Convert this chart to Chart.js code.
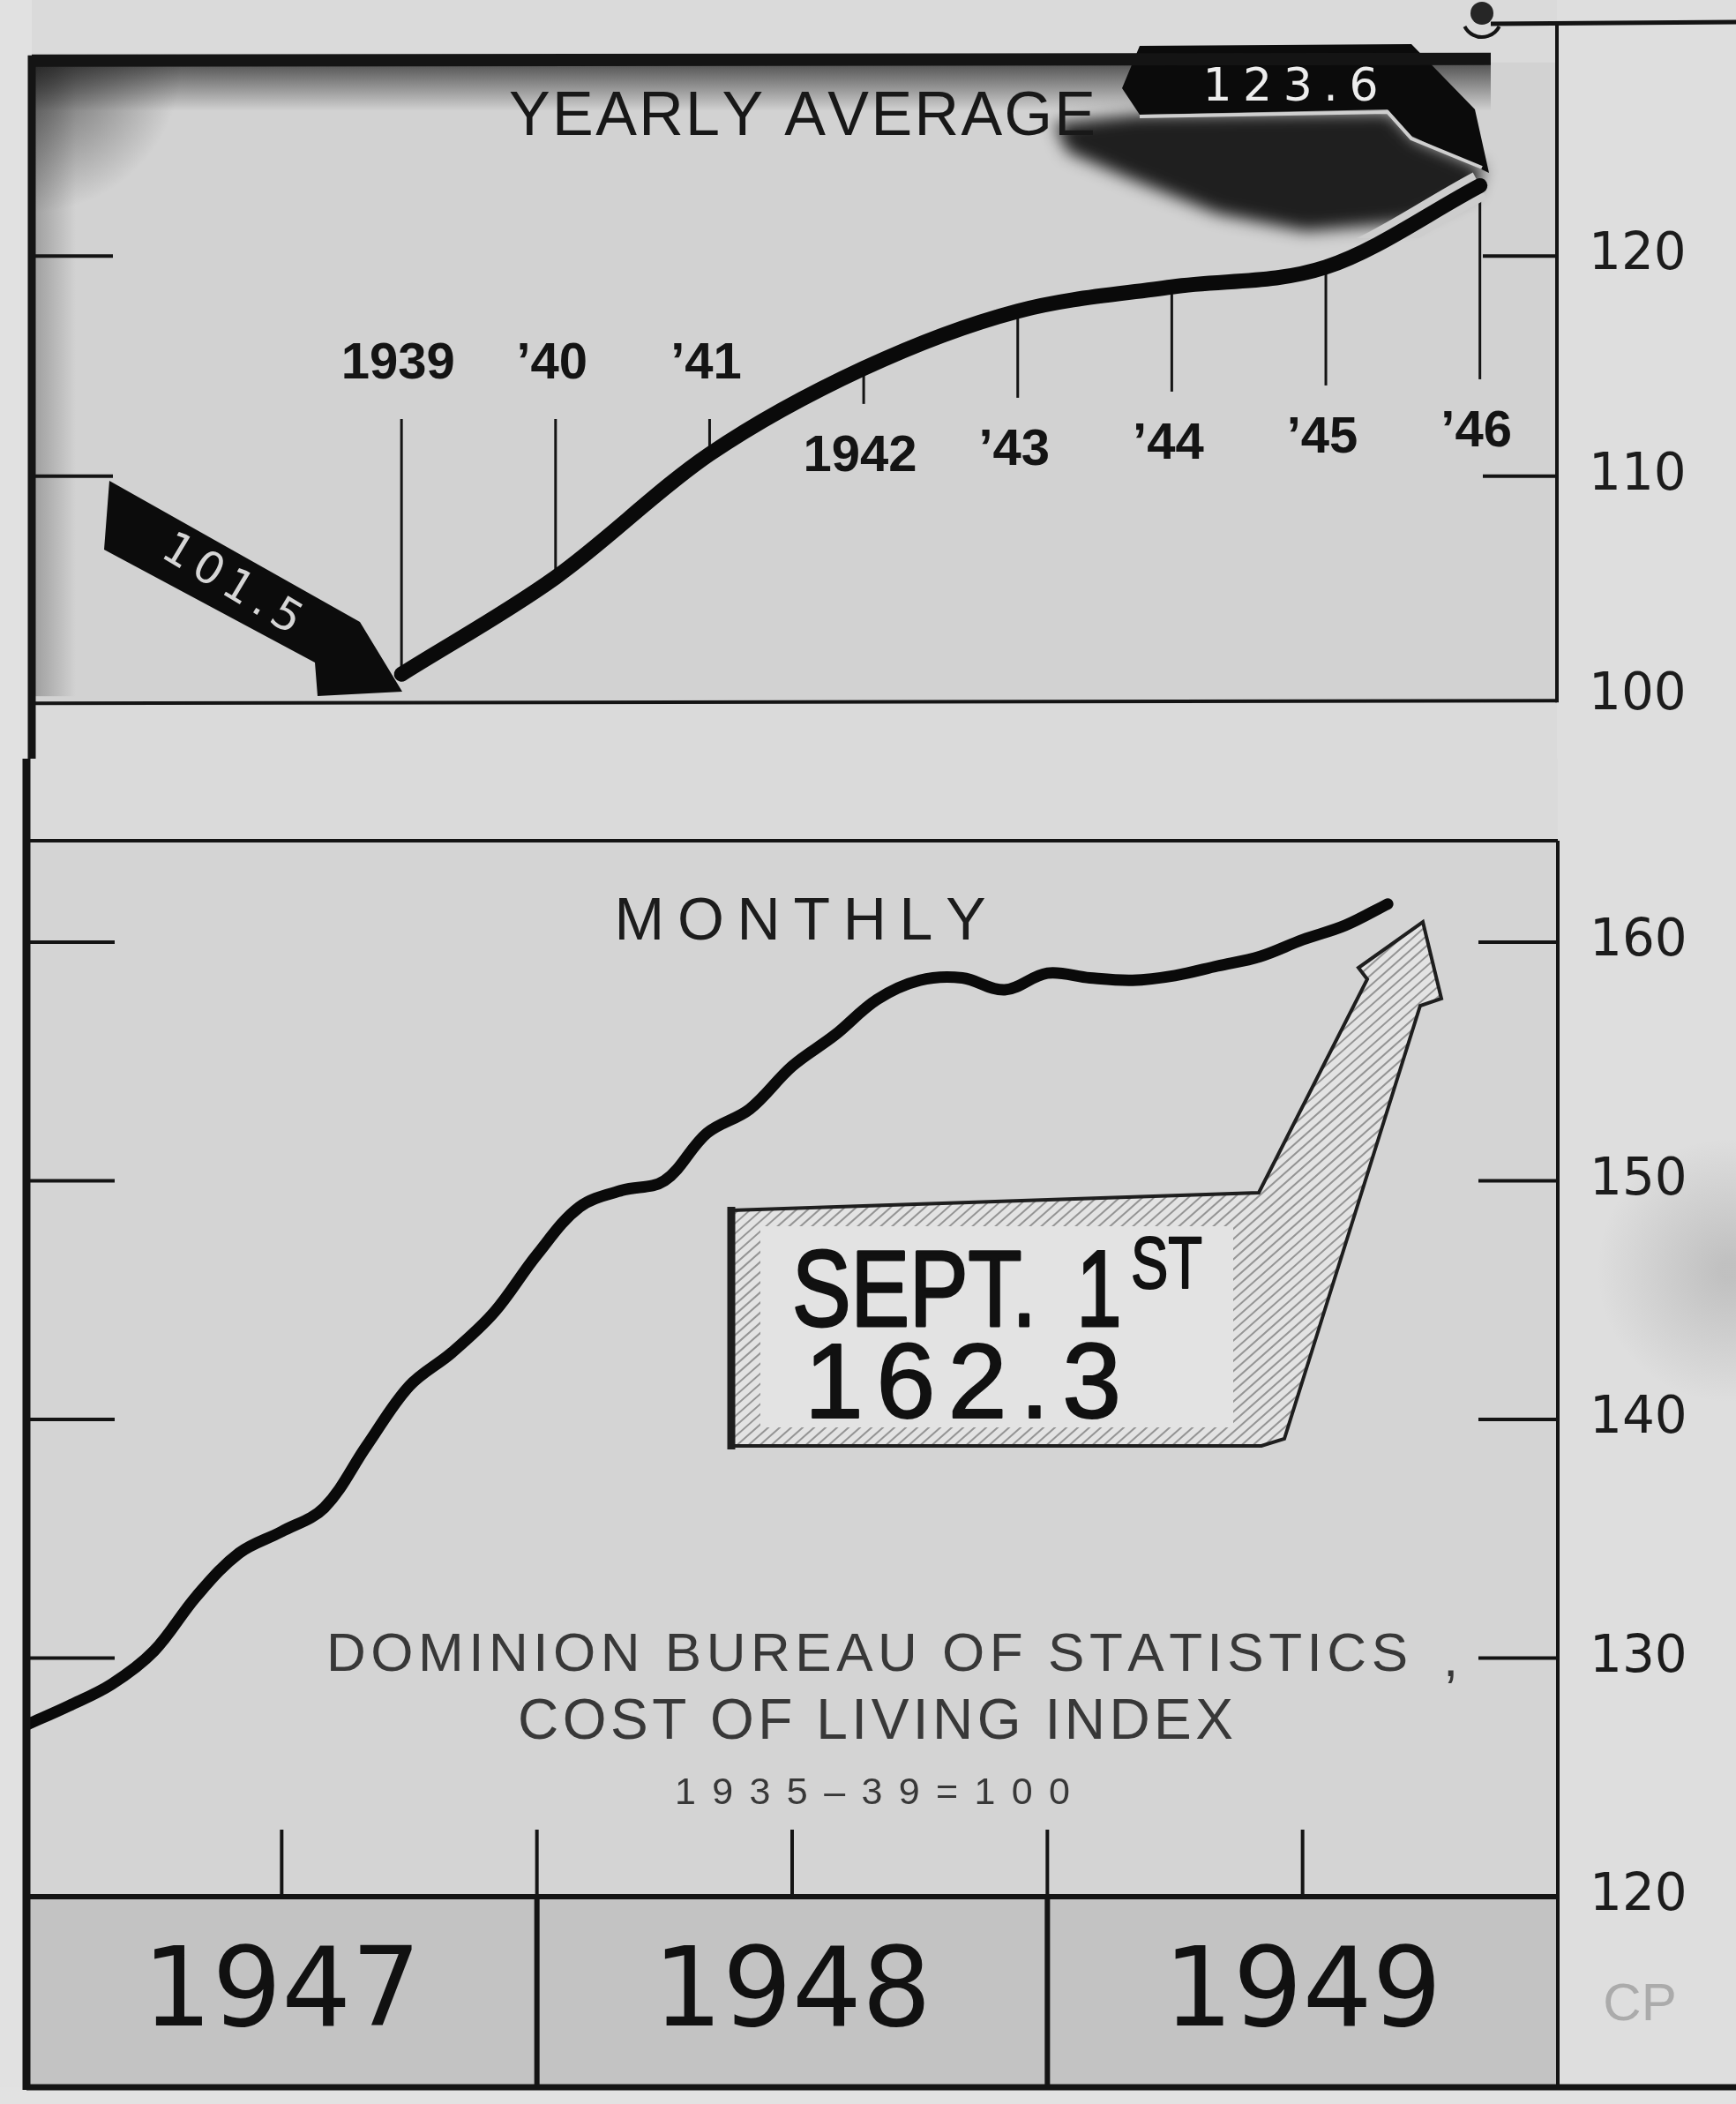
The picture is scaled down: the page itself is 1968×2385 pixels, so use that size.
<!DOCTYPE html>
<html lang="en">
<head>
<meta charset="UTF-8">
<title>Cost of Living Index</title>
<script src="https://cdn.jsdelivr.net/npm/chart.js"></script>
<style>
  html, body { margin: 0; padding: 0; }
  body { width: 1968px; height: 2385px; background: #dadada; position: relative; overflow: hidden; }
  canvas { position: absolute; left: 0; }
</style>
</head>
<body>
<canvas id="yearly" width="1968" height="860" style="top:0"></canvas>
<canvas id="monthly" width="1968" height="1525" style="top:860px"></canvas>
<script>
// Dominion Bureau of Statistics cost of living index, 1935-39 = 100

// yearly averages
const years = [1939, 1940, 1941, 1942, 1943, 1944, 1945, 1946]
const yearLabels = ['1939', '\u201940', '\u201941', '1942', '\u201943', '\u201944', '\u201945', '\u201946']
const yearlyIndex = [101.0, 105.4, 111.0, 114.9, 117.5, 118.6, 119.5, 123.2]
const yearlyTicks = [100, 110, 120]

// monthly, months counted from Jan 1947 (0) to Sept 1949 (32)
const months = [0, 1, 2, 3, 4, 5, 6, 7, 8, 9, 10, 11,
                12, 13, 14, 15, 16, 17, 18, 19, 20, 21, 22, 23,
                24, 25, 26, 27, 28, 29, 30, 31, 32]
const monthlyIndex = [127.2, 128.0, 128.9, 130.3, 132.6, 134.4, 135.3, 136.3, 138.9, 141.4, 142.8, 144.5,
                      146.9, 148.9, 149.6, 150.0, 152.0, 153.0, 154.8, 156.1, 157.6, 158.4, 158.5, 158.0,
                      158.7, 158.5, 158.4, 158.6, 159.0, 159.4, 160.1, 160.7, 161.6]
const monthlyTicks = [120, 130, 140, 150, 160]
const yearNames = ['1947', '1948', '1949']
const yearStarts = [0, 12, 24, 36]
const halfYears = [6, 12, 18, 24, 30]

function poly(ctx, pts) {
  ctx.beginPath()
  pts.forEach(([x, y], i) => i ? ctx.lineTo(x, y) : ctx.moveTo(x, y))
  ctx.closePath()
}

function line(ctx, x1, y1, x2, y2) {
  ctx.beginPath(); ctx.moveTo(x1, y1); ctx.lineTo(x2, y2); ctx.stroke()
}

// draw text so that it spans `width` px: letter-spaced if short, squeezed if long
function fitText(ctx, text, x, y, width, align, bold) {
  const chars = [...text]
  const natural = ctx.measureText(text).width
  let left = align === 'center' ? x - width / 2 : x
  ctx.save()
  ctx.textAlign = 'left'
  if (bold) { ctx.strokeStyle = ctx.fillStyle; ctx.lineWidth = bold; ctx.lineJoin = 'round' }
  if (natural >= width || chars.length < 2) {
    ctx.translate(left, y)
    ctx.scale(width / natural, 1)
    ctx.fillText(text, 0, 0)
    if (bold) ctx.strokeText(text, 0, 0)
  } else {
    const sum = chars.reduce((s, c) => s + ctx.measureText(c).width, 0)
    const gap = (width - sum) / (chars.length - 1)
    for (const c of chars) {
      ctx.fillText(c, left, y)
      if (bold) ctx.strokeText(c, left, y)
      left += ctx.measureText(c).width + gap
    }
  }
  ctx.restore()
}

const INK = '#141414'

const yearlyDecor = {
  id: 'yearlyDecor',
  beforeDraw(chart) {
    const { ctx, chartArea: a, width, height } = chart
    ctx.save()
    ctx.fillStyle = '#e1e1e1'; ctx.fillRect(0, 0, a.left, height)
    ctx.fillStyle = '#dedede'; ctx.fillRect(a.right, 0, width - a.right, height)
    ctx.fillStyle = '#d2d2d2'; ctx.fillRect(a.left, a.top, a.right - a.left, a.bottom + 6 - a.top)
    // ink smear along the top edge, the left edge and in the corner
    let g = ctx.createLinearGradient(0, a.top, 0, a.top + 55)
    g.addColorStop(0, 'rgba(25,25,25,0.7)'); g.addColorStop(1, 'rgba(25,25,25,0)')
    ctx.fillStyle = g; ctx.fillRect(a.left, a.top, 1690 - a.left, 55)
    g = ctx.createLinearGradient(a.left, 0, a.left + 50, 0)
    g.addColorStop(0, 'rgba(30,30,30,0.3)'); g.addColorStop(1, 'rgba(30,30,30,0)')
    ctx.fillStyle = g; ctx.fillRect(a.left, a.top, 50, a.bottom - a.top)
    g = ctx.createRadialGradient(a.left, a.top, 5, a.left, a.top, 170)
    g.addColorStop(0, 'rgba(25,25,25,0.65)'); g.addColorStop(1, 'rgba(25,25,25,0)')
    ctx.fillStyle = g; ctx.fillRect(a.left, a.top, 180, 180)
    // dark smudge under the 123.6 banner
    ctx.filter = 'blur(9px)'
    ctx.fillStyle = 'rgba(15,15,15,0.92)'
    poly(ctx, [[1195, 140], [1290, 130], [1575, 127], [1605, 158], [1682, 190], [1672, 218],
               [1600, 252], [1480, 262], [1380, 242], [1280, 202], [1210, 172]])
    ctx.fill()
    ctx.filter = 'none'
    ctx.restore()
  },
  beforeDatasetsDraw(chart) {
    const { ctx, chartArea: a, scales: { x, y } } = chart
    ctx.save()
    ctx.strokeStyle = INK
    ctx.lineWidth = 4
    yearlyTicks.slice(1).forEach(v => {
      const py = y.getPixelForValue(v)
      line(ctx, a.left, py, a.left + 92, py)
      line(ctx, a.right - 84, py, a.right, py)
    })
    // year labels with thin leaders to the curve
    ctx.lineWidth = 3
    ctx.fillStyle = INK
    ctx.font = 'bold 58px "Liberation Sans", Arial, sans-serif'
    ctx.textAlign = 'center'
    ctx.textBaseline = 'middle'
    years.forEach((yr, i) => {
      const px = x.getPixelForValue(yr)
      const pc = y.getPixelForValue(yearlyIndex[i])
      const above = i < 3
      const ly = above ? 413 : 518 - (px - 976) * 0.04
      if (above) line(ctx, px, ly + 62, px, pc - 8)
      else line(ctx, px, pc + 8, px, ly - 60)
      ctx.fillText(yearLabels[i], px - 4, ly)
    })
    // 101.5 arrow
    ctx.fillStyle = '#0c0c0c'
    poly(ctx, [[124, 545], [408, 705], [456, 784], [360, 789], [357, 751], [118, 623]])
    ctx.fill()
    ctx.save()
    ctx.translate(262, 664)
    ctx.rotate(31 * Math.PI / 180)
    ctx.fillStyle = '#d6d6d6'
    ctx.font = '50px "DejaVu Sans", sans-serif'
    ctx.textBaseline = 'middle'
    fitText(ctx, '101.5', 0, 0, 175, 'center')
    ctx.restore()
    // 123.6 banner
    ctx.fillStyle = '#0b0b0b'
    poly(ctx, [[1272, 100], [1292, 52], [1600, 50], [1672, 124], [1688, 196], [1600, 154], [1573, 124], [1292, 130]])
    ctx.fill()
    ctx.strokeStyle = '#cfcfcf'
    ctx.lineWidth = 4
    ctx.beginPath(); ctx.moveTo(1292, 132); ctx.lineTo(1573, 127); ctx.lineTo(1600, 157); ctx.lineTo(1680, 190); ctx.stroke()
    ctx.fillStyle = '#ededed'
    ctx.font = '52px "DejaVu Sans", sans-serif'
    ctx.textBaseline = 'alphabetic'
    fitText(ctx, '123.6', 1463, 114, 199, 'center')
    ctx.restore()
  },
  beforeDatasetDraw(chart, args) {
    if (args.index !== 1) return
    const ctx = chart.ctx
    ctx.save()
    ctx.beginPath(); ctx.rect(1190, 120, 510, 150); ctx.clip()
  },
  afterDatasetDraw(chart, args) {
    if (args.index === 1) chart.ctx.restore()
  },
  afterDatasetsDraw(chart) {
    const { ctx, chartArea: a, width, height } = chart
    ctx.save()
    ctx.strokeStyle = INK
    ctx.lineWidth = 14; line(ctx, a.left, a.top - 2, 1690, a.top - 4)
    ctx.lineWidth = 5; line(ctx, 1690, 27, width, 25)
    ctx.lineWidth = 4
    line(ctx, a.right, 27, a.right, a.bottom + 7)
    line(ctx, a.left, a.bottom + 8, a.right, a.bottom + 5)
    ctx.lineWidth = 9; line(ctx, a.left, a.top - 8, a.left, height)
    // drawing pin
    ctx.fillStyle = '#262626'
    ctx.beginPath(); ctx.arc(1680, 15, 13, 0, Math.PI * 2); ctx.fill()
    ctx.lineWidth = 4
    ctx.beginPath(); ctx.arc(1680, 20, 22, 0.15 * Math.PI, 0.85 * Math.PI); ctx.stroke()
    // title
    ctx.fillStyle = '#181818'
    ctx.font = '70px "Liberation Sans", Arial, sans-serif'
    fitText(ctx, 'YEARLY AVERAGE', 577, 153, 665, 'left')
    ctx.restore()
  }
}

const monthlyDecor = {
  id: 'monthlyDecor',
  beforeDraw(chart) {
    const { ctx, chartArea: a, width, height } = chart
    const bandBottom = a.bottom + 216
    ctx.save()
    ctx.fillStyle = '#e1e1e1'; ctx.fillRect(0, 0, a.left, height)
    ctx.fillStyle = '#dedede'; ctx.fillRect(a.right, 0, width - a.right, height)
    ctx.fillStyle = '#d4d4d4'; ctx.fillRect(a.left, a.top, a.right - a.left, a.bottom - a.top)
    ctx.fillStyle = '#c3c3c3'; ctx.fillRect(a.left, a.bottom, a.right - a.left, 216)
    ctx.fillStyle = '#e2e2e2'; ctx.fillRect(0, bandBottom, width, height - bandBottom)
    const g = ctx.createRadialGradient(1960, 580, 10, 1960, 580, 150)
    g.addColorStop(0, 'rgba(40,40,40,0.16)'); g.addColorStop(1, 'rgba(40,40,40,0)')
    ctx.fillStyle = g; ctx.fillRect(1800, 420, 168, 320)
    ctx.restore()
  },
  beforeDatasetsDraw(chart) {
    const { ctx, chartArea: a, scales: { x, y } } = chart
    ctx.save()
    ctx.strokeStyle = INK
    ctx.lineWidth = 4
    monthlyTicks.slice(1).forEach(v => {
      const py = y.getPixelForValue(v)
      line(ctx, a.left, py, a.left + 100, py)
      line(ctx, a.right - 90, py, a.right, py)
    })
    halfYears.forEach(m => {
      const px = x.getPixelForValue(m)
      line(ctx, px, a.bottom - 76, px, a.bottom)
    })
    ctx.textBaseline = 'alphabetic'
    ctx.fillStyle = '#1c1c1c'
    ctx.font = '68px "Liberation Sans", Arial, sans-serif'
    fitText(ctx, 'MONTHLY', 907, 205, 421, 'center')
    // source note
    ctx.fillStyle = '#383838'
    ctx.font = '62px "Liberation Sans", Arial, sans-serif'
    fitText(ctx, 'DOMINION BUREAU OF STATISTICS', 370, 1034, 1226, 'left')
    ctx.fillText(',', 1636, 1040)
    ctx.font = '64px "Liberation Sans", Arial, sans-serif'
    fitText(ctx, 'COST OF LIVING INDEX', 587, 1111, 811, 'left')
    ctx.font = '43px "Liberation Sans", Arial, sans-serif'
    fitText(ctx, '1935\u201339=100', 765, 1185, 448, 'left')
    // SEPT. 1st callout
    const box = [[829, 512], [1427, 492], [1550, 250], [1540, 237], [1613, 185], [1634, 272],
                 [1610, 280], [1456, 771], [1430, 779], [829, 779]]
    ctx.fillStyle = '#e3e3e3'
    poly(ctx, box); ctx.fill()
    ctx.save()
    poly(ctx, box); ctx.clip()
    ctx.strokeStyle = 'rgba(70,70,70,0.5)'
    ctx.lineWidth = 2
    for (let k = -700; k < 1000; k += 13) line(ctx, 820 + k, 790, 820 + k + 700, 170)
    ctx.fillStyle = '#e3e3e3'
    ctx.fillRect(862, 530, 536, 228)
    ctx.restore()
    ctx.strokeStyle = '#1e1e1e'
    ctx.lineWidth = 4
    poly(ctx, box); ctx.stroke()
    ctx.lineWidth = 9; line(ctx, 829, 508, 829, 783)
    ctx.fillStyle = '#111'
    ctx.font = '122px "Liberation Sans", Arial, sans-serif'
    fitText(ctx, 'SEPT.', 898, 643, 277, 'left', 3)
    ctx.save()
    ctx.textAlign = 'center'
    ctx.strokeStyle = '#111'; ctx.lineWidth = 3
    ctx.translate(1246, 643); ctx.scale(0.75, 1)
    ctx.fillText('1', 0, 0); ctx.strokeText('1', 0, 0)
    ctx.restore()
    ctx.font = '84px "Liberation Sans", Arial, sans-serif'
    fitText(ctx, 'ST', 1282, 600, 81, 'left', 2)
    ctx.font = '120px "Liberation Sans", Arial, sans-serif'
    fitText(ctx, '162.3', 912, 747, 359, 'left', 2)
    ctx.restore()
  },
  afterDatasetsDraw(chart) {
    const { ctx, chartArea: a, scales: { x }, width } = chart
    const bandBottom = a.bottom + 216
    ctx.save()
    ctx.strokeStyle = INK
    ctx.lineWidth = 4
    line(ctx, a.left, a.top, a.right, a.top)
    line(ctx, a.right, a.top, a.right, bandBottom)
    ctx.lineWidth = 6
    line(ctx, a.left, a.bottom, a.right, a.bottom)
    yearStarts.slice(1, -1).forEach(m => {
      const px = x.getPixelForValue(m)
      line(ctx, px, a.bottom, px, bandBottom)
    })
    ctx.lineWidth = 9
    line(ctx, a.left, 0, a.left, bandBottom + 3)
    ctx.lineWidth = 7
    line(ctx, a.left, bandBottom, width, bandBottom)
    ctx.fillStyle = '#111'
    ctx.font = '124px "DejaVu Sans", sans-serif'
    ctx.textAlign = 'center'
    ctx.textBaseline = 'alphabetic'
    yearNames.forEach((n, i) => {
      const cx = (x.getPixelForValue(yearStarts[i]) + x.getPixelForValue(yearStarts[i + 1])) / 2
      ctx.fillText(n, cx, a.bottom + 146)
    })
    ctx.fillStyle = '#ababab'
    ctx.font = '60px "Liberation Sans", Arial, sans-serif'
    ctx.fillText('CP', 1859, 1430)
    ctx.restore()
  }
}

const tickFont = { family: '"DejaVu Sans", sans-serif', size: 58 }

const yearlyPoints = years.map((yr, i) => ({ x: yr, y: yearlyIndex[i] }))

new Chart(document.getElementById('yearly'), {
  type: 'line',
  data: {
    datasets: [{
      data: yearlyPoints,
      borderColor: '#0a0a0a',
      borderWidth: 17,
      borderCapStyle: 'round',
      borderJoinStyle: 'round',
      cubicInterpolationMode: 'monotone',
      pointRadius: 0,
      order: 0
    }, {
      // light halo where the curve runs through the dark smudge
      data: yearlyPoints,
      borderColor: '#cdcdcd',
      borderWidth: 34,
      cubicInterpolationMode: 'monotone',
      pointRadius: 0,
      order: 1
    }]
  },
  options: {
    responsive: false,
    devicePixelRatio: 1,
    animation: false,
    events: [],
    layout: { padding: { left: 36, top: 49, right: 0, bottom: 45 } },
    plugins: { legend: { display: false }, tooltip: { enabled: false } },
    scales: {
      x: { type: 'linear', min: 1936.6, max: 1946.5, display: false },
      y: {
        type: 'linear',
        position: 'right',
        min: 100,
        max: 128.8,
        afterBuildTicks: s => { s.ticks = yearlyTicks.map(v => ({ value: v })) },
        afterFit: s => { s.width = 203 },
        grid: { display: false, drawTicks: false },
        border: { display: false },
        ticks: { padding: 36, color: '#1c1c1c', font: tickFont }
      }
    }
  },
  plugins: [yearlyDecor]
})

new Chart(document.getElementById('monthly'), {
  type: 'line',
  data: {
    datasets: [{
      data: months.map((m, i) => ({ x: m, y: monthlyIndex[i] })),
      borderColor: '#0a0a0a',
      borderWidth: 13,
      borderCapStyle: 'round',
      borderJoinStyle: 'round',
      tension: 0.35,
      pointRadius: 0
    }]
  },
  options: {
    responsive: false,
    devicePixelRatio: 1,
    animation: false,
    events: [],
    layout: { padding: { left: 30, top: 93, right: 0, bottom: 235 } },
    plugins: { legend: { display: false }, tooltip: { enabled: false } },
    scales: {
      x: { type: 'linear', min: 0, max: 36, display: false },
      y: {
        type: 'linear',
        position: 'right',
        min: 120,
        max: 164.25,
        afterBuildTicks: s => { s.ticks = monthlyTicks.map(v => ({ value: v })) },
        afterFit: s => { s.width = 202 },
        grid: { display: false, drawTicks: false },
        border: { display: false },
        ticks: { padding: 36, color: '#1c1c1c', font: tickFont }
      }
    }
  },
  plugins: [monthlyDecor]
})
</script>
</body>
</html>
